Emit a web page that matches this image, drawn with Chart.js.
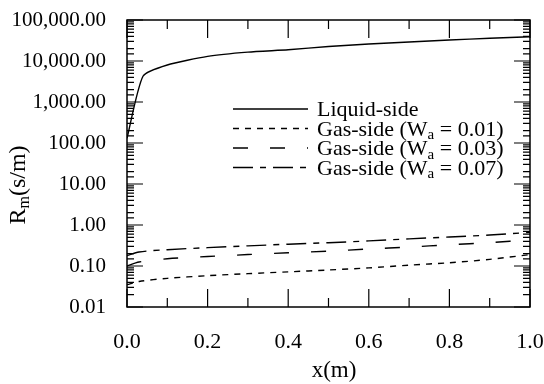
<!DOCTYPE html>
<html>
<head>
<meta charset="utf-8">
<script src="https://cdn.jsdelivr.net/npm/chart.js@4.4.1/dist/chart.umd.min.js"></script>
<style>
  html, body { margin: 0; padding: 0; background: #fff; }
  #wrap { width: 544px; height: 384px; }
</style>
</head>
<body>
<div id="wrap"><canvas id="chart" width="544" height="384"></canvas></div>
<script>
// ---- data ----
const liquidX = [0, 0.04, 0.1, 0.2, 0.3, 0.4, 0.5, 0.6, 0.7, 0.8, 0.9, 1.0];
const liquidY = [130, 4300, 8000, 13000, 16500, 18800, 22500, 26000, 29000, 32500, 36000, 39000];

const gasX = [0, 0.03, 0.1, 0.2, 0.3, 0.4, 0.5, 0.6, 0.7, 0.8, 0.9, 1.0];
const gas001 = [0.035, 0.042, 0.05, 0.058, 0.065, 0.072, 0.08, 0.09, 0.105, 0.12, 0.145, 0.19];
const gas003 = [0.10, 0.125, 0.15, 0.17, 0.19, 0.21, 0.23, 0.26, 0.29, 0.33, 0.37, 0.44];
const gas007 = [0.18, 0.22, 0.25, 0.28, 0.31, 0.34, 0.37, 0.41, 0.46, 0.51, 0.57, 0.66];

const seriesLabels = ['Liquid-side', 'Gas-side (W_a = 0.01)', 'Gas-side (W_a = 0.03)', 'Gas-side (W_a = 0.07)'];
const xTitle = 'x(m)';
const yTitle = 'R_m(s/m)';

const SERIF = '"Liberation Serif", "DejaVu Serif", serif';

function pts(xs, ys) {
  return xs.map((x, i) => ({ x: x, y: ys[i] }));
}

// draws text where "_c" means subscript c
function drawRich(ctx, str, x, y, size, align) {
  const parts = [];
  let i = 0, buf = '';
  while (i < str.length) {
    if (str[i] === '_' && i + 1 < str.length) {
      if (buf) parts.push({ t: buf, sub: false });
      parts.push({ t: str[i + 1], sub: true });
      buf = '';
      i += 2;
    } else {
      buf += str[i];
      i++;
    }
  }
  if (buf) parts.push({ t: buf, sub: false });

  const subSize = Math.round(size * 0.68);
  let total = 0;
  parts.forEach(p => {
    ctx.font = (p.sub ? subSize : size) + 'px ' + SERIF;
    p.w = ctx.measureText(p.t).width;
    total += p.w;
  });
  let cx = align === 'center' ? x - total / 2 : x;
  ctx.textAlign = 'left';
  ctx.textBaseline = 'alphabetic';
  parts.forEach(p => {
    ctx.font = (p.sub ? subSize : size) + 'px ' + SERIF;
    ctx.fillText(p.t, cx, p.sub ? y + size * 0.17 : y);
    cx += p.w;
  });
}

const isPow10 = v => Math.abs(Math.log10(v) - Math.round(Math.log10(v))) < 1e-9;

// inward ticks on all four sides, legend and titles
const decorPlugin = {
  id: 'decor',
  afterDraw(chart) {
    const ctx = chart.ctx;
    const a = chart.chartArea;
    const xs = chart.scales.x, ys = chart.scales.y;
    ctx.save();
    ctx.strokeStyle = '#000';
    ctx.lineWidth = 1.2;

    ys.ticks.forEach(t => {
      const py = ys.getPixelForValue(t.value);
      const len = isPow10(t.value) ? 16 : 7;
      ctx.beginPath();
      ctx.moveTo(a.left, py); ctx.lineTo(a.left + len, py);
      ctx.moveTo(a.right, py); ctx.lineTo(a.right - len, py);
      ctx.stroke();
    });
    xs.ticks.forEach((t, i) => {
      const px = xs.getPixelForValue(t.value);
      const len = i % 2 === 0 ? 18 : 9;
      ctx.beginPath();
      ctx.moveTo(px, a.bottom); ctx.lineTo(px, a.bottom - len);
      ctx.moveTo(px, a.top); ctx.lineTo(px, a.top + len);
      ctx.stroke();
    });

    // box
    ctx.lineWidth = 1.5;
    ctx.strokeRect(a.left, a.top, a.right - a.left, a.bottom - a.top);

    // legend
    ctx.fillStyle = '#000';
    const lx = 233, lw = 75, tx = 317;
    const rows = [116, 135.5, 155, 174.5];
    chart.data.datasets.forEach((ds, i) => {
      const y = rows[i];
      ctx.lineWidth = ds.borderWidth;
      ctx.setLineDash(ds.borderDash || []);
      ctx.beginPath();
      ctx.moveTo(lx, y - 7); ctx.lineTo(lx + lw, y - 7);
      ctx.stroke();
      ctx.setLineDash([]);
      drawRich(ctx, ds.label, tx, y, 22, 'left');
    });

    // axis titles
    drawRich(ctx, xTitle, 334, 377, 23, 'center');
    ctx.translate(25, 185);
    ctx.rotate(-Math.PI / 2);
    drawRich(ctx, yTitle, 0, 0, 24, 'center');
    ctx.restore();
  }
};

const lineBase = {
  borderColor: '#000',
  borderWidth: 1.4,
  pointRadius: 0,
  fill: false,
  tension: 0.3,
  showLine: true
};

new Chart(document.getElementById('chart'), {
  type: 'scatter',
  data: {
    datasets: [
      { ...lineBase, label: seriesLabels[0], data: pts(liquidX, liquidY), tension: 0.2 },
      { ...lineBase, label: seriesLabels[1], data: pts(gasX, gas001), borderDash: [6, 6] },
      { ...lineBase, label: seriesLabels[2], data: pts(gasX, gas003), borderDash: [15, 22] },
      { ...lineBase, label: seriesLabels[3], data: pts(gasX, gas007), borderDash: [20, 7, 6, 7] }
    ]
  },
  options: {
    responsive: false,
    animation: false,
    layout: { padding: { top: 20, right: 14, left: 0, bottom: 0 } },
    plugins: {
      legend: { display: false },
      tooltip: { enabled: false }
    },
    scales: {
      x: {
        type: 'linear',
        min: 0,
        max: 1,
        grid: { display: false },
        border: { display: false },
        afterFit: s => { s.height = 77; s.paddingLeft = 0; s.paddingRight = 0; },
        ticks: {
          stepSize: 0.1,
          autoSkip: false,
          maxRotation: 0,
          padding: 14,
          color: '#000',
          font: { family: SERIF, size: 22 },
          callback: (v, i) => (i % 2 === 0 ? Number(v).toFixed(1) : '')
        }
      },
      y: {
        type: 'logarithmic',
        min: 0.01,
        max: 100000,
        grid: { display: false },
        border: { display: false },
        afterFit: s => { s.width = 127; s.paddingTop = 0; s.paddingBottom = 0; },
        ticks: {
          autoSkip: false,
          padding: 13,
          color: '#000',
          font: { family: SERIF, size: 21 },
          callback: v => (isPow10(v)
            ? Number(v).toLocaleString('en-US', { minimumFractionDigits: 2, maximumFractionDigits: 2 })
            : '')
        }
      }
    }
  },
  plugins: [decorPlugin]
});
</script>
</body>
</html>
